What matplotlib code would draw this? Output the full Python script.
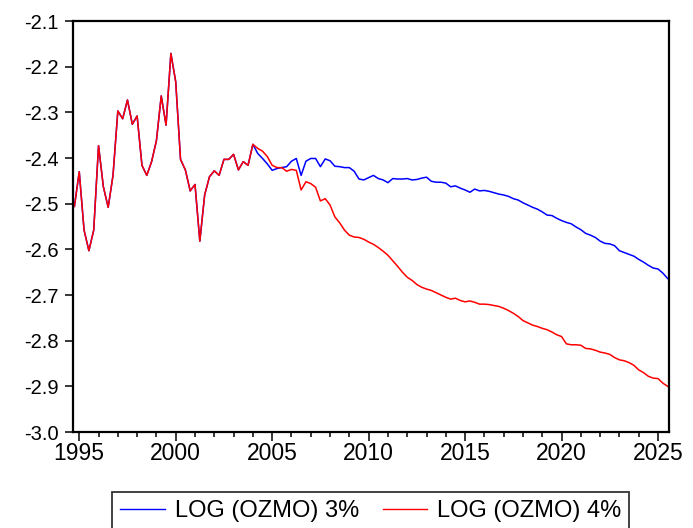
import numpy as np
import matplotlib
matplotlib.use("Agg")
import matplotlib.pyplot as plt
from matplotlib.ticker import MultipleLocator, FormatStrFormatter

# ---- data (quarterly, starting 1994Q4) ----
start_year = 1994.75
common = [-2.506, -2.430, -2.558, -2.603, -2.558, -2.373, -2.463, -2.508, -2.438, -2.297,
          -2.314, -2.273, -2.326, -2.308, -2.416, -2.438, -2.408, -2.362, -2.264, -2.328,
          -2.171, -2.233, -2.403, -2.426, -2.472, -2.458, -2.582, -2.481, -2.441, -2.428,
          -2.438, -2.403, -2.403, -2.392, -2.426, -2.408, -2.416, -2.370]
blue_tail = [-2.390, -2.401, -2.413, -2.427, -2.423, -2.421, -2.419, -2.407, -2.401, -2.438,
             -2.407, -2.401, -2.401, -2.419, -2.402, -2.406, -2.418, -2.419, -2.421, -2.421,
             -2.429, -2.446, -2.448, -2.443, -2.438, -2.445, -2.448, -2.454, -2.445, -2.446,
             -2.446, -2.445, -2.448, -2.447, -2.444, -2.442, -2.451, -2.453, -2.453, -2.455,
             -2.463,
             -2.461, -2.466, -2.470, -2.475, -2.468, -2.472, -2.471, -2.473, -2.476, -2.479,
             -2.481, -2.484, -2.489, -2.492, -2.498, -2.503, -2.508, -2.512, -2.518, -2.525,
             -2.526, -2.532, -2.537, -2.541, -2.544, -2.551, -2.557, -2.565, -2.569, -2.574,
             -2.582, -2.587, -2.588, -2.592, -2.603, -2.607, -2.611, -2.615, -2.622, -2.628,
             -2.635, -2.641, -2.643, -2.652, -2.664]
red_tail = [-2.379, -2.385, -2.397, -2.416, -2.421, -2.421, -2.429, -2.425, -2.427, -2.470,
            -2.452, -2.456, -2.464, -2.494, -2.489, -2.503, -2.529, -2.542, -2.558, -2.569,
            -2.573, -2.574, -2.578, -2.584, -2.589, -2.596, -2.604, -2.613, -2.625, -2.637,
            -2.650, -2.661, -2.668, -2.677, -2.683, -2.687, -2.690, -2.695, -2.700, -2.705,
            -2.709,
            -2.707, -2.712, -2.715, -2.713, -2.716, -2.720, -2.720, -2.721, -2.723, -2.725,
            -2.729, -2.734, -2.740, -2.747, -2.756, -2.761, -2.766, -2.769, -2.773, -2.776,
            -2.781, -2.787, -2.791, -2.807, -2.809, -2.809, -2.810, -2.817, -2.818, -2.821,
            -2.825, -2.827, -2.830, -2.837, -2.842, -2.844, -2.848, -2.854, -2.864, -2.870,
            -2.878, -2.882, -2.883, -2.893, -2.900]
series_labels = ["LOG (OZMO) 3%", "LOG (OZMO) 4%"]
x_ticks = [1995, 2000, 2005, 2010, 2015, 2020, 2025]

ozmo3 = np.array(common + blue_tail)
ozmo4 = np.array(common + red_tail)
t = start_year + 0.25 * np.arange(len(ozmo3))

plt.rcParams['font.family'] = ['Liberation Sans', 'DejaVu Sans']
plt.rcParams['axes.unicode_minus'] = False

fig = plt.figure(figsize=(6.93, 5.28), dpi=100)
ax = fig.add_axes([0.106, 0.1818, 0.8594, 0.7784])

ax.plot(t, ozmo3, color='#0000ff', lw=1.1, label=series_labels[0])
ax.plot(t, ozmo4, color='#ff0000', lw=1.1, label=series_labels[1])

ax.set_xlim(1994.70, 2025.57)
ax.set_ylim(-3.0, -2.1)
ax.yaxis.set_major_locator(MultipleLocator(0.1))
ax.yaxis.set_major_formatter(FormatStrFormatter('%.1f'))
ax.set_xticks(x_ticks)
ax.set_xticklabels([str(v) for v in x_ticks])
ax.xaxis.set_minor_locator(MultipleLocator(1))

for s in ax.spines.values():
    s.set_linewidth(1.6)
    s.set_color('black')

ax.tick_params(axis='y', which='major', direction='out', length=5.5, width=1.1,
               labelsize=14.5, pad=5)
ax.tick_params(axis='x', which='major', direction='out', length=6.5, width=1.1,
               labelsize=16.5, pad=1)
ax.tick_params(axis='x', which='minor', direction='out', length=3.6, width=1.1)

leg = fig.legend(loc='upper center', bbox_to_anchor=(0.535, 0.069), ncol=2,
                 fontsize=17, frameon=True, fancybox=False, edgecolor='black',
                 handlelength=1.9, handletextpad=0.4, columnspacing=1.0,
                 borderpad=0.35, borderaxespad=0)
leg.get_frame().set_linewidth(1.3)
for line in leg.get_lines():
    line.set_linewidth(1.0)

fig.savefig('out.png', dpi=100)
